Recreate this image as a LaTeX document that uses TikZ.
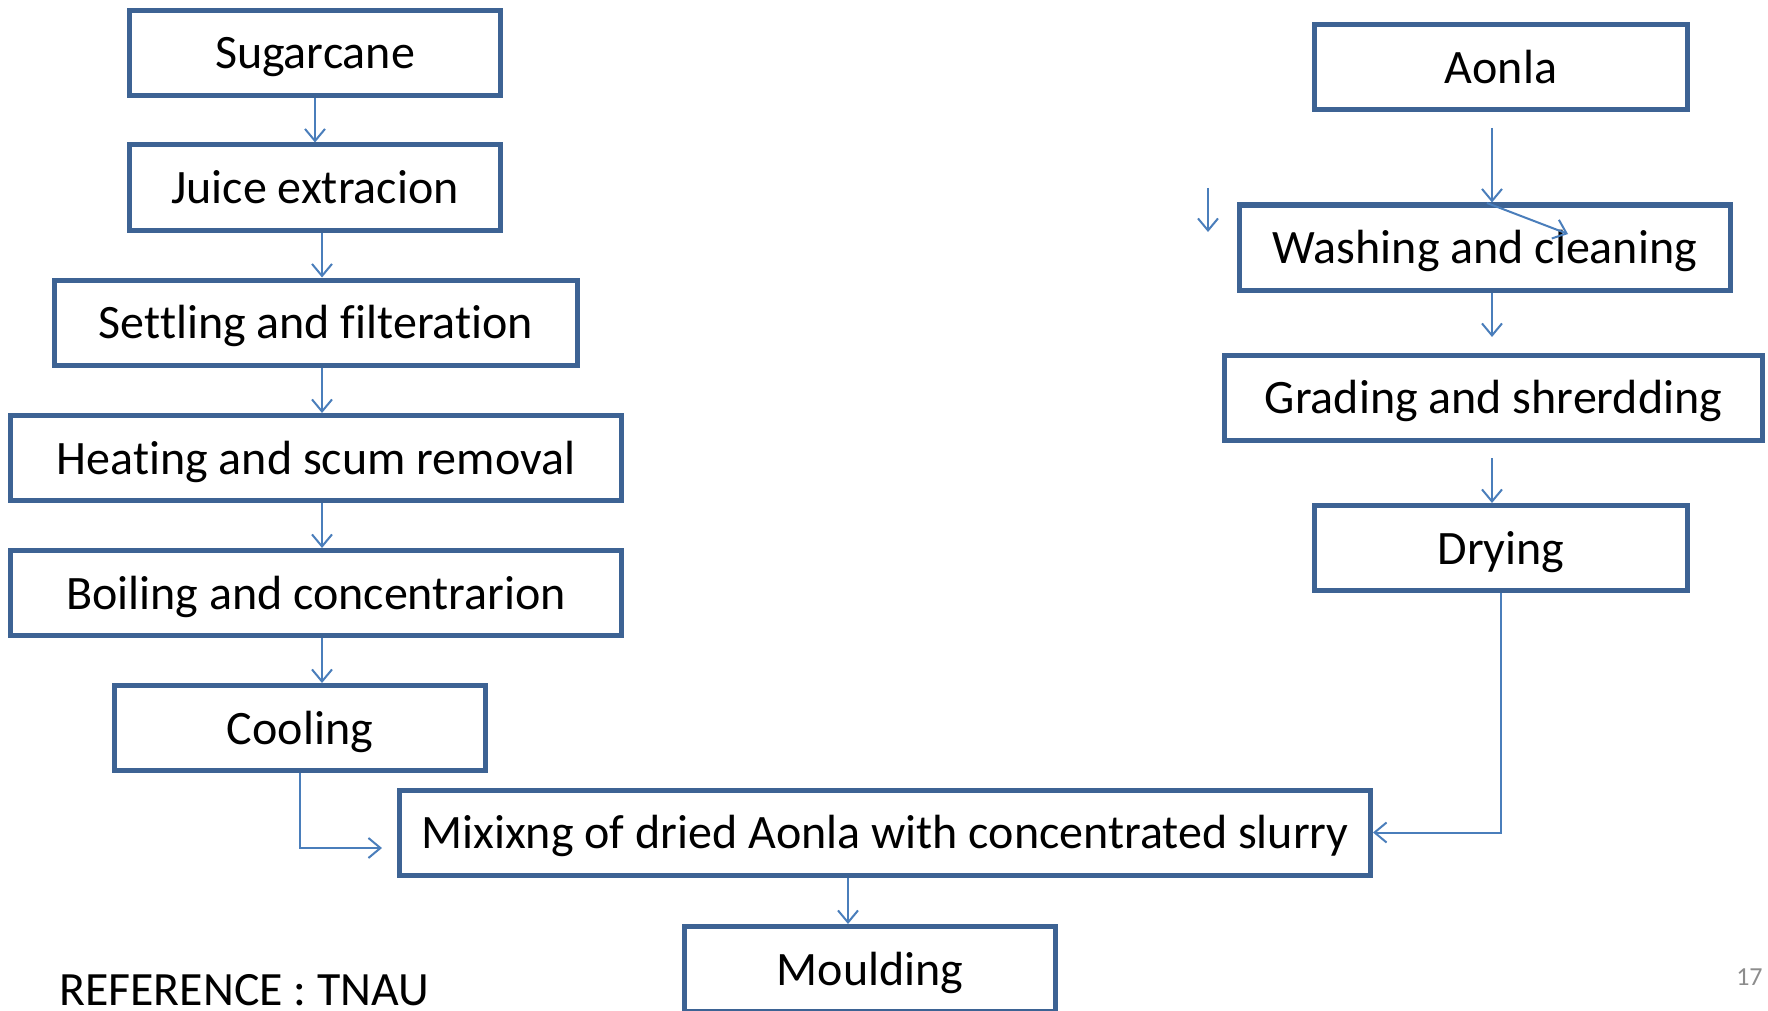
\documentclass[tikz,border=0pt]{standalone}
\usepackage{fontspec}
\setmainfont[Ligatures=NoCommon]{Carlito}
\usetikzlibrary{arrows.meta}
\definecolor{boxblue}{HTML}{3D6394}
\definecolor{arrowblue}{HTML}{4A7EBB}
\definecolor{pagegray}{HTML}{8C8C8C}
\tikzset{
  x=0.5pt, y=-0.5pt,
  box/.style={draw=boxblue, line width=2.5pt, fill=white, inner sep=0pt,
    minimum height=42.5pt, text height=16pt, text depth=0pt,
    font=\fontsize{24pt}{29pt}\selectfont, text=black},
  narrowbox/.style={box, minimum width=185.5pt},
  arr/.style={draw=arrowblue, line width=1pt,
    -{Straight Barb[length=6pt,width=10pt,line width=1pt]}},
}
\begin{document}
\begin{tikzpicture}
\useasboundingbox (0,0) rectangle (1768,1011);

% sugarcane line
\node[narrowbox] (sugar) at (315,53) {Sugarcane};
\node[narrowbox] (juice) at (315,187.5) {Juice extracion};
\node[box, minimum width=261.5pt] (settle) at (316,322.5) {Settling and filteration};
\node[box, minimum width=305.5pt] (heat) at (316,458) {Heating and scum removal};
\node[box, minimum width=305.5pt] (boil) at (316,593) {Boiling and concentrarion};
\node[narrowbox] (cool) at (300,728) {Cooling};

% aonla line
\node[box, minimum width=186.5pt] (aonla) at (1501,67.5) {Aonla};
\node[box, minimum width=245.5pt] (wash) at (1485,247.5) {Washing and cleaning};
\node[box, minimum width=269pt] (grade) at (1493.5,397.5) {Grading and shrerdding};
\node[box, minimum width=186.5pt] (dry) at (1501,548) {Drying};

% joint steps
\node[box, minimum width=485.5pt] (mix) at (885,832.5) {Mixixng of dried Aonla with concentrated slurry};
\node[narrowbox] (mould) at (870,969) {Moulding};

% footer texts
\node[anchor=base west, inner sep=0pt, font=\fontsize{23.9pt}{28pt}\selectfont] (ref) at (59,1005) {REFERENCE : TNAU};
\node[anchor=base east, inner sep=0pt, text=pagegray, font=\fontsize{13pt}{15pt}\selectfont] (pg) at (1763,985) {17};

% free ends of the short connectors
\coordinate (a0) at (1492,128);
\coordinate (g0) at (1492,337);
\coordinate (d0) at (1492,458);
\coordinate (s0) at (1208,188);
\coordinate (s1) at (1208,232);
\coordinate (w0) at (1487,203);
\coordinate (w1) at (1568,234);
\coordinate (c1) at (382,848);

% sugarcane connectors
\draw[arr] (sugar.south) -- (juice.north);
\draw[arr] ([xshift=3.5pt]juice.south) -- ([xshift=3.5pt]juice.south |- settle.north);
\draw[arr] ([xshift=3pt]settle.south) -- ([xshift=3pt]settle.south |- heat.north);
\draw[arr] ([xshift=3pt]heat.south) -- ([xshift=3pt]heat.south |- boil.north);
\draw[arr] ([xshift=3pt]boil.south) -- ([xshift=3pt]boil.south |- cool.north);
\draw[arr] (cool.south) |- (c1);

% aonla connectors
\draw[arr] (a0) -- (a0 |- wash.north);
\draw[arr] (a0 |- wash.south) -- (g0);
\draw[arr] (d0) -- (d0 |- dry.north);
\draw[arr] (s0) -- (s1);
\draw[arr] (w0) -- (w1);
\draw[arr] (dry.south) |- (mix.east);

% to moulding
\draw[arr] (mix.south -| 848,0) -- (mould.north -| 848,0);
\end{tikzpicture}
\end{document}
